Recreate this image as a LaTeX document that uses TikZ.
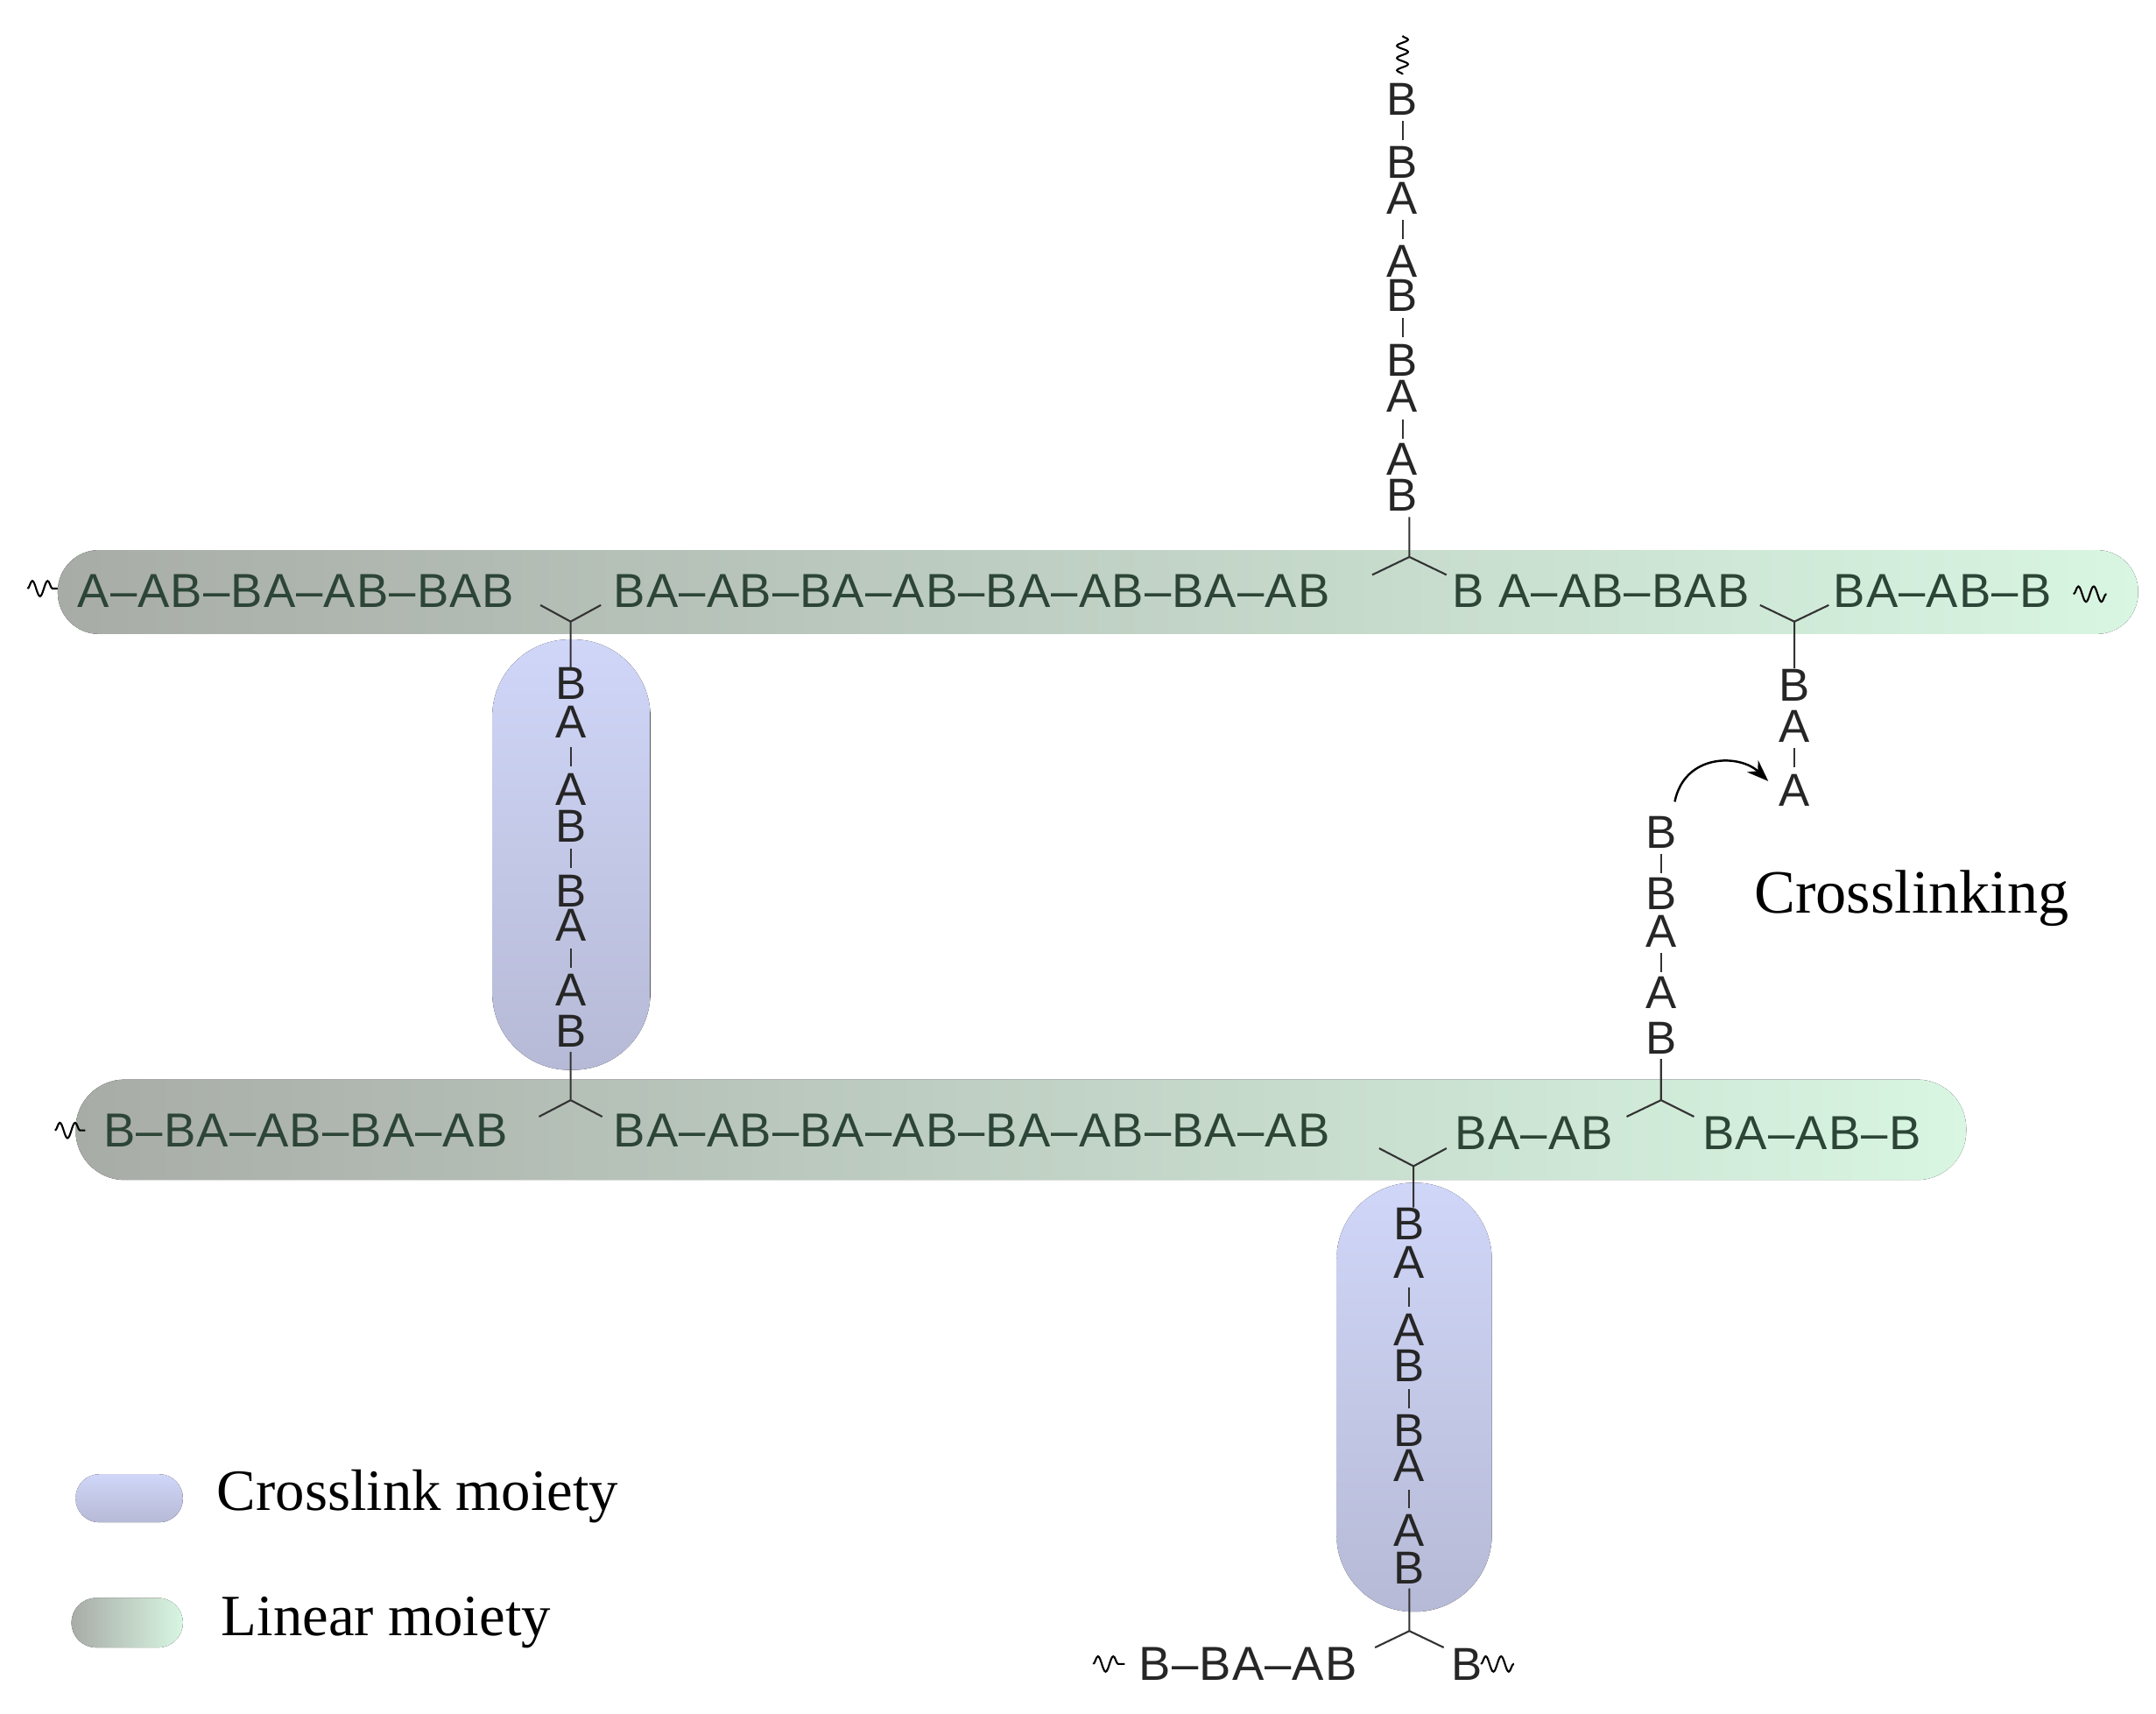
\documentclass[tikz,border=0pt]{standalone}
\usepackage{fontspec}
\setmainfont{Liberation Sans}
\newfontfamily\serifx{Liberation Serif}
\newfontfamily\spaced{Liberation Sans}[LetterSpace=2]
\newcommand\hyx{\textendash}
\usetikzlibrary{decorations.pathmorphing,arrows.meta}
\definecolor{lgray}{HTML}{A8ACA7}
\definecolor{lgreen}{HTML}{D8F6E2}
\definecolor{bluea}{HTML}{D0D6F8}
\definecolor{blueb}{HTML}{B6BAD6}
\definecolor{gtxt}{HTML}{2C4536}
\begin{document}
\begin{tikzpicture}[x=0.0157cm,y=-0.0157cm,
  chain/.style={font=\spaced\fontsize{15.5}{18}\selectfont,inner sep=0pt,text=gtxt},
  vl/.style={font=\fontsize{15}{18}\selectfont,inner sep=0pt,text=black!85},
  bond/.style={line width=0.6pt,black!80},
  wig/.style={decorate,decoration={snake,amplitude=2.5pt,segment length=5pt},line width=0.6pt},
  lin/.style={left color=lgray,right color=lgreen,draw=none},
  cl/.style={top color=bluea,bottom color=blueb,draw=none}]
\useasboundingbox (0,0) rectangle (1568,1246);
% bands
\fill[lin,rounded corners=0.47cm] (42,400) rectangle (1555,461);
\fill[lin,rounded corners=0.56cm] (55,785) rectangle (1430,858);
\fill[cl,rounded corners=0.88cm] (358,465) rectangle (473,778);
\fill[cl,rounded corners=0.88cm] (972,860) rectangle (1085,1172);
\fill[cl,rounded corners=0.27cm] (55,1072) rectangle (133,1107);
\fill[lin,rounded corners=0.28cm] (52,1162) rectangle (133,1198);
% top row
\draw[wig] (20,428) -- (42,428);
\node[chain,anchor=west] (t1) at (56,430) {A\hyx AB\hyx BA\hyx AB\hyx BAB};
\node[chain,anchor=west] (t2) at (446,430) {BA\hyx AB\hyx BA\hyx AB\hyx BA\hyx AB\hyx BA\hyx AB};
\node[chain,anchor=west] (t3) at (1056,430) {B A\hyx AB\hyx BAB};
\node[chain,anchor=west] (t4) at (1333,430) {BA\hyx AB\hyx B};
\draw[wig] (1508,432) -- (1532,432);
\draw[bond] (393,440)--(415,452)--(437,440) (415,452)--(415,486);
\draw[bond] (998,418)--(1025,405)--(1052,418) (1025,405)--(1025,376);
\draw[bond] (1280,440)--(1305,452)--(1330,440) (1305,452)--(1305,486);
% top vertical chain
\foreach \y/\l in {72/B,118/B,144/A,190/A,215/B,262/B,288/A,334/A,360/B}
  \node[vl] at (1020,\y) {\l};
\foreach \y in {95,167,238,312} \draw[bond] (1020,\y-7)--(1020,\y+7);
\draw[decorate,decoration={snake,amplitude=1.8pt,segment length=4pt},line width=0.6pt] (1020,26)--(1020,54);
% left crosslink chain
\foreach \y/\l in {497/B,525/A,574/A,601/B,648/B,673/A,720/A,750/B}
  \node[vl] at (415,\y) {\l};
\foreach \y in {550,624,697} \draw[bond] (415,\y-7)--(415,\y+7);
\draw[bond] (415,765)--(415,800) (392,812)--(415,800)--(438,812);
% right dangling
\foreach \y/\l in {498/B,528/A,575/A} \node[vl] at (1305,\y) {\l};
\draw[bond] (1305,544)--(1305,558);
\foreach \y/\l in {605/B,650/B,677/A,722/A,755/B} \node[vl] at (1208,\y) {\l};
\foreach \y in {628,700} \draw[bond] (1208,\y-7)--(1208,\y+7);
\draw[bond] (1208,770)--(1208,800) (1183,812)--(1208,800)--(1232,812);
\draw[line width=0.7pt,-{Stealth[length=7pt]}] (1218,583) .. controls (1225,548) and (1265,548) .. (1286,568);
\node[font=\serifx\fontsize{20}{24}\selectfont,anchor=west] (cx) at (1268,653) {Crosslinking};
% bottom row
\draw[wig] (40,822) -- (62,822);
\node[chain,anchor=west] (b1) at (75,822) {B\hyx BA\hyx AB\hyx BA\hyx AB};
\node[chain,anchor=west] (b2) at (446,822) {BA\hyx AB\hyx BA\hyx AB\hyx BA\hyx AB\hyx BA\hyx AB};
\node[chain,anchor=west] (b3) at (1058,824) {BA\hyx AB};
\node[chain,anchor=west] (b4) at (1238,824) {BA\hyx AB\hyx B};
\draw[bond] (1003,835)--(1028,848)--(1052,835) (1028,848)--(1028,878);
% bottom vertical chain
\foreach \y/\l in {890/B,918/A,967/A,993/B,1040/B,1066/A,1113/A,1140/B}
  \node[vl] at (1025,\y) {\l};
\foreach \y in {943,1017,1090} \draw[bond] (1025,\y-7)--(1025,\y+7);
\draw[bond] (1025,1155)--(1025,1186) (1000,1198)--(1025,1186)--(1050,1198);
\draw[wig] (795,1210)--(818,1210);
\node[chain,text=black!85,anchor=west] (bb1) at (828,1210) {B\hyx BA\hyx AB};
\node[vl,anchor=west] (bb2) at (1055,1210) {B};
\draw[wig] (1077,1210)--(1101,1210);
% legend
\node[font=\serifx\fontsize{19}{24}\selectfont,anchor=west] (lg1) at (150,1088) {Crosslink moiety};
\node[font=\serifx\fontsize{19}{24}\selectfont,anchor=west] (lg2) at (153,1180) {Linear moiety};
\end{tikzpicture}
\end{document}
